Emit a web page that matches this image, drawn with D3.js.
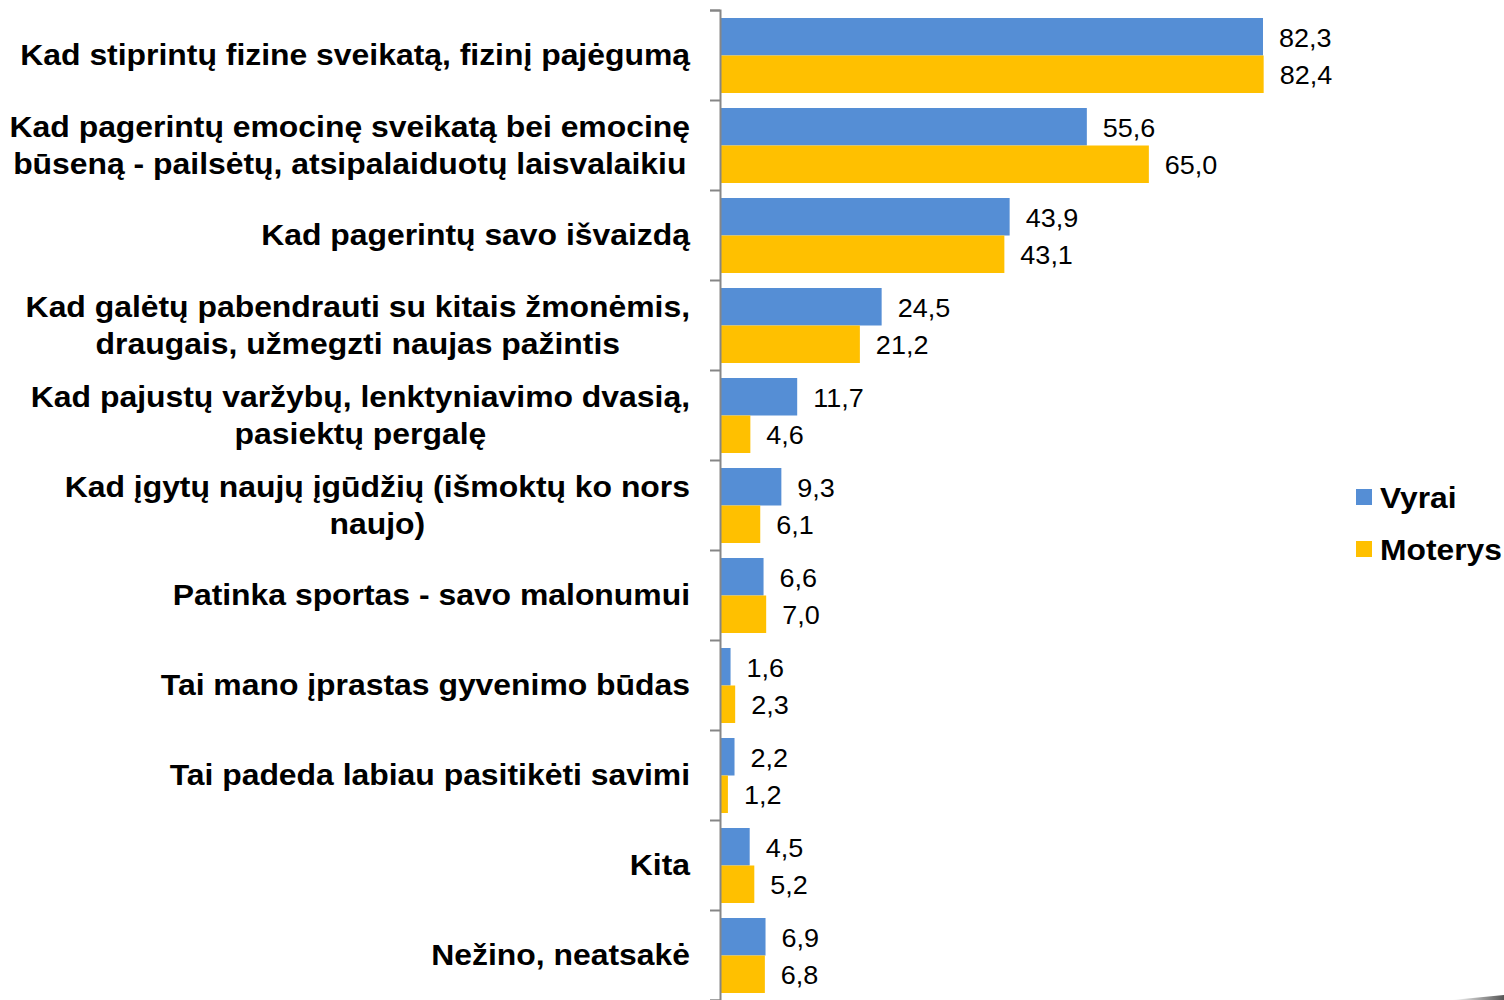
<!DOCTYPE html>
<html>
<head>
<meta charset="utf-8">
<script src="https://cdn.jsdelivr.net/npm/d3@7"></script>
<style>
  body { margin: 0; background: #fff; }
  text { font-family: "Liberation Sans", Arial, sans-serif; }
</style>
</head>
<body>
<svg id="chart" width="1504" height="1000"></svg>
<script>
// categories, each one split into its lines
const categories = [
  ['Kad stiprintų fizine sveikatą, fizinį pajėgumą'],
  ['Kad pagerintų emocinę sveikatą bei emocinę', 'būseną - pailsėtų, atsipalaiduotų laisvalaikiu'],
  ['Kad pagerintų savo išvaizdą'],
  ['Kad galėtų pabendrauti su kitais žmonėmis,', 'draugais, užmegzti naujas pažintis'],
  ['Kad pajustų varžybų, lenktyniavimo dvasią,', 'pasiektų pergalę'],
  ['Kad įgytų naujų įgūdžių (išmoktų ko nors', 'naujo)'],
  ['Patinka sportas - savo malonumui'],
  ['Tai mano įprastas gyvenimo būdas'],
  ['Tai padeda labiau pasitikėti savimi'],
  ['Kita'],
  ['Nežino, neatsakė']
]
const vyrai   = [82.3, 55.6, 43.9, 24.5, 11.7, 9.3, 6.6, 1.6, 2.2, 4.5, 6.9]
const moterys = [82.4, 65.0, 43.1, 21.2, 4.6, 6.1, 7.0, 2.3, 1.2, 5.2, 6.8]
const seriesNames = ['Vyrai', 'Moterys']
const colors = ['#558ed5', '#ffc000']

const svg = d3.select('#chart'),
      x0  = 720,
      fmt = v => v.toFixed(1).replace('.', ',')

const x = d3.scaleLinear().domain([0, 82.3]).range([x0, 1263])
const y = d3.scaleBand().domain(d3.range(categories.length)).range([10, 1000])
const ys = d3.scaleBand().domain([0, 1]).range([8, y.bandwidth() - 7])

const rows = categories.map((c, i) => ({ i, lines: c, vals: [vyrai[i], moterys[i]] }))

// bars
const g = svg.selectAll('g.row').data(rows).join('g')
  .attr('class', 'row')
  .attr('transform', d => 'translate(0,' + y(d.i) + ')')

g.selectAll('rect').data(d => d.vals).join('rect')
  .attr('x', x0)
  .attr('y', (v, j) => ys(j))
  .attr('width', v => x(v) - x0)
  .attr('height', ys.bandwidth())
  .attr('fill', (v, j) => colors[j])

// the picture's text is a bit wider than Arial, so stretch it sideways
g.selectAll('text.val').data(d => d.vals).join('text')
  .attr('class', 'val')
  .attr('transform', (v, j) => 'translate(' + (x(v) + 16) + ',' + (ys(j) + ys.bandwidth() / 2 + 1) + ') scale(1.08,1)')
  .attr('dy', '0.36em')
  .attr('font-size', 25)
  .attr('fill', '#000')
  .text(fmt)

// axis: vertical line with outward ticks between categories
const axis = d3.axisLeft(d3.scaleLinear().domain([0, categories.length]).range([10, 1000]))
  .ticks(categories.length)
  .tickSize(10)
  .tickSizeOuter(10)
  .tickFormat('')
const ax = svg.append('g').attr('transform', 'translate(' + x0 + ',0)').call(axis)
ax.selectAll('path, line').attr('stroke', '#868686').attr('stroke-width', 2)

// category labels: block right-aligned at 690, lines centred inside it
g.each(function(d) {
  const row = d3.select(this),
        fs = 29,
        lh = 37,
        t = row.append('text')
          .attr('transform', 'translate(690,0) scale(1.1,1)')
          .attr('font-size', fs)
          .attr('font-weight', 'bold')
          .attr('text-anchor', 'middle')
  const top = y.bandwidth() / 2 - (d.lines.length - 1) * lh / 2
  d.lines.forEach((l, k) => {
    t.append('tspan').attr('x', 0).attr('y', top + k * lh).attr('dy', '0.36em').text(l)
  })
  const w = d3.max(t.selectAll('tspan').nodes(), n => n.getComputedTextLength())
  t.selectAll('tspan').attr('x', -w / 2)
})

// legend
const lg = svg.selectAll('g.legend').data(seriesNames).join('g')
  .attr('class', 'legend')
  .attr('transform', (d, j) => 'translate(1356,' + (497 + j * 52) + ')')
lg.append('rect').attr('x', 0).attr('y', -8).attr('width', 16).attr('height', 16)
  .attr('fill', (d, j) => colors[j])
lg.append('text').attr('transform', 'translate(24,0) scale(1.06,1)').attr('dy', '0.36em')
  .attr('font-size', 30).attr('font-weight', 'bold').text(d => d)

// faint grey smudge in the bottom right corner
const grad = svg.append('defs').append('linearGradient').attr('id', 'smudge')
grad.append('stop').attr('offset', '0%').attr('stop-color', '#fff')
grad.append('stop').attr('offset', '100%').attr('stop-color', '#555')
svg.append('path')
  .attr('d', 'M1452,1000 L1504,995 L1504,1000 Z')
  .attr('fill', 'url(#smudge)')
</script>
</body>
</html>
